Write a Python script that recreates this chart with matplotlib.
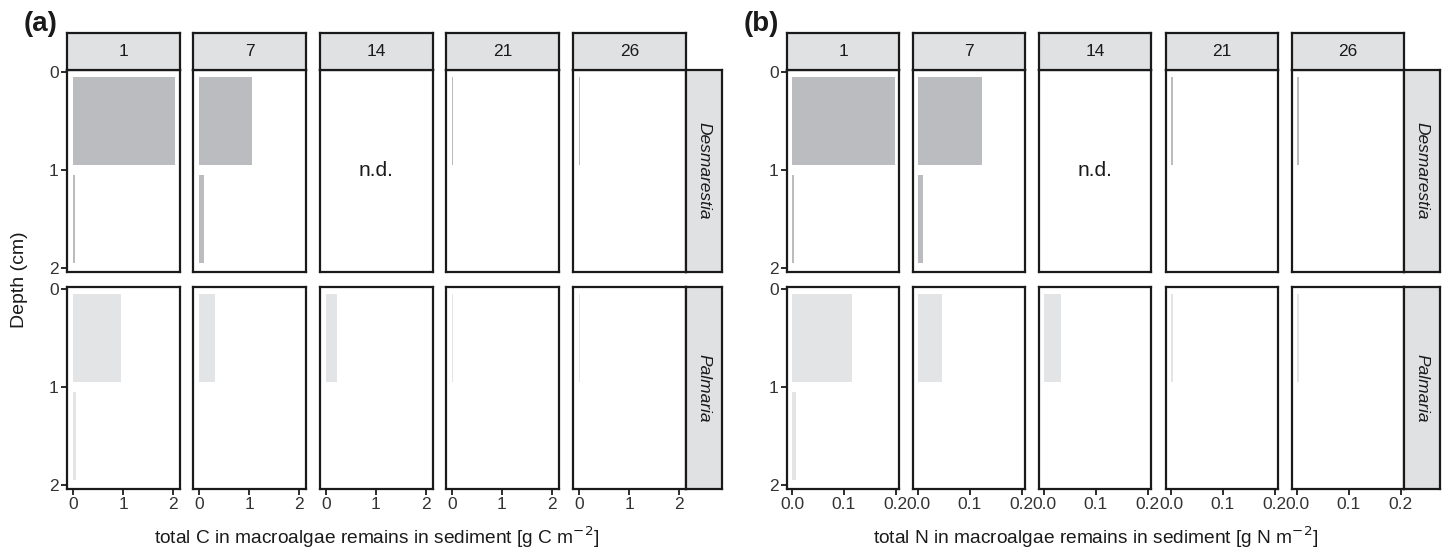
import matplotlib
matplotlib.use("Agg")
import matplotlib.pyplot as plt
import numpy as np

plt.rcParams["font.family"] = ["Liberation Sans", "DejaVu Sans"]

W, H = 1450, 552

days = ["1", "7", "14", "21", "26"]
species = ["Desmarestia", "Palmaria"]
depth_mid = [0.5, 1.5]  # 0-1 cm and 1-2 cm layers

# total C [g C m-2]; rows = day, cols = (0-1 cm, 1-2 cm); nan = not determined
carbon_des = [[2.04, 0.03], [1.06, 0.10], [np.nan, np.nan], [0.02, 0.0], [0.02, 0.0]]
carbon_pal = [[0.96, 0.06], [0.32, 0.0], [0.22, 0.0], [0.02, 0.0], [0.02, 0.0]]

# total N [g N m-2]
nitrogen_des = [[0.198, 0.004], [0.123, 0.010], [np.nan, np.nan], [0.003, 0.0], [0.003, 0.0]]
nitrogen_pal = [[0.115, 0.008], [0.047, 0.0], [0.033, 0.0], [0.003, 0.0], [0.003, 0.0]]

colors = {"Desmarestia": "#bbbcbf", "Palmaria": "#e3e4e6"}
strip_fill = "#e0e1e3"
edge = "#1a1a1a"
lw = 1.6


def add_px_axes(fig, x0, y0, x1, y1):
    return fig.add_axes([x0 / W, 1 - y1 / H, (x1 - x0) / W, (y1 - y0) / H])


def strip(fig, x0, y0, x1, y1, text, rotation=0, italic=False):
    ax = add_px_axes(fig, x0, y0, x1, y1)
    ax.set_facecolor(strip_fill)
    ax.set_xticks([])
    ax.set_yticks([])
    for s in ax.spines.values():
        s.set_linewidth(lw)
        s.set_color(edge)
    ax.text(0.5, 0.5, text, ha="center", va="center", rotation=rotation,
            fontsize=12.5, color="#1a1a1a", style="italic" if italic else "normal",
            transform=ax.transAxes)


def draw_block(fig, lefts, width, data, xlim, xticks, xticklabels, xlabel, tag):
    rows_y = [(70, 272), (287, 489)]
    for r, sp in enumerate(species):
        y0, y1 = rows_y[r]
        vals = data[sp]
        for c, day in enumerate(days):
            x0 = lefts[c]
            ax = add_px_axes(fig, x0, y0, x0 + width, y1)
            v = vals[c]
            if np.all(np.isnan(v)):
                ax.text(np.mean(xlim), 1.0, "n.d.", ha="center", va="center",
                        fontsize=15, color="#1a1a1a")
            else:
                ax.barh(depth_mid, v, height=0.9, left=0, color=colors[sp], linewidth=0)
            ax.set_xlim(*xlim)
            ax.set_ylim(2.04, -0.02)
            for s in ax.spines.values():
                s.set_linewidth(lw)
                s.set_color(edge)
            ax.tick_params(length=4, width=1.3, color=edge, labelsize=12.5,
                           labelcolor="#333333", pad=2)
            ax.set_yticks([0, 1, 2])
            if c == 0:
                ax.set_yticklabels(["0", "1", "2"])
            else:
                ax.set_yticklabels([])
                ax.tick_params(axis="y", length=0)
            ax.set_xticks(xticks)
            if r == 1:
                ax.set_xticklabels(xticklabels)
            else:
                ax.set_xticklabels([])
                ax.tick_params(axis="x", length=0)
            if r == 0:
                strip(fig, x0, 33, x0 + width, 70, day)
        strip(fig, lefts[-1] + width, y0, lefts[-1] + width + 36, y1, sp,
              rotation=-90, italic=True)
    mid = (lefts[0] + lefts[-1] + width) / 2
    fig.text(mid / W, 1 - 537 / H, xlabel, ha="center", va="center",
             fontsize=13.8, color="#1a1a1a")
    fig.text((lefts[0] - 43) / W, 1 - 24 / H, tag, ha="left", va="center",
             fontsize=20, fontweight="bold", color="#1a1a1a")


fig = plt.figure(figsize=(W / 100, H / 100), dpi=100)

lefts_a = [67, 193, 320, 446, 573]
draw_block(fig, lefts_a, 113,
           {"Desmarestia": carbon_des, "Palmaria": carbon_pal},
           (-0.12, 2.14), [0, 1, 2], ["0", "1", "2"],
           r"total C in macroalgae remains in sediment [g C m$^{-2}$]", "(a)")

lefts_b = [787, 913, 1039, 1166, 1292]
draw_block(fig, lefts_b, 112,
           {"Desmarestia": nitrogen_des, "Palmaria": nitrogen_pal},
           (-0.0096, 0.206), [0, 0.1, 0.2], ["0.0", "0.1", "0.2"],
           r"total N in macroalgae remains in sediment [g N m$^{-2}$]", "(b)")

fig.text(20 / W, 1 - 280 / H, "Depth (cm)", rotation=90, ha="center", va="center",
         fontsize=14, color="#1a1a1a")

fig.savefig("out.png", dpi=100)
